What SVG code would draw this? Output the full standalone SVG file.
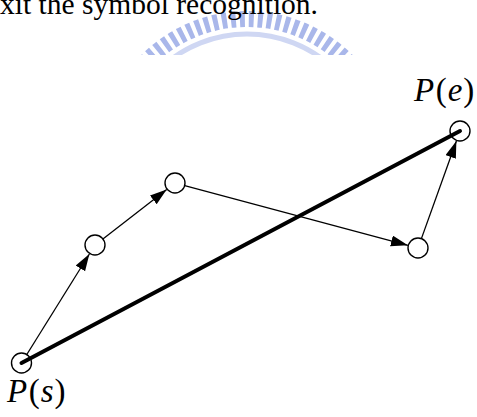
<svg xmlns="http://www.w3.org/2000/svg" width="477" height="417" viewBox="0 0 477 417">
<style>
.node circle{fill:#fff;stroke:#000;stroke-width:1.4}
.thin{stroke:#000;stroke-width:1.3;fill:none;marker-end:url(#ah)}
.thick{stroke:#000;stroke-width:4;fill:none;stroke-linecap:round}
.lbl{font-family:"Liberation Serif","Times New Roman",serif;font-size:33px;fill:#000}
.it{font-style:italic}
.cap{font-family:"Liberation Serif","Times New Roman",serif;font-size:29.5px;fill:#000}
</style>
<defs>
<marker id="ah" markerUnits="userSpaceOnUse" markerWidth="18" markerHeight="12" refX="17" refY="5.5" orient="auto" viewBox="0 0 18 12">
<path d="M0,0 L17,5.5 L0,11 z" fill="#000"/>
</marker>
<clipPath id="wmclip"><rect x="0" y="0" width="477" height="55"/></clipPath>
</defs>
<g id="watermark" clip-path="url(#wmclip)">
<circle cx="247" cy="160" r="141" fill="none" stroke="#a9b7ea" stroke-width="16" stroke-dasharray="5 4"/>
<circle cx="247" cy="160" r="126" fill="none" stroke="#cfd7f3" stroke-width="5"/>
</g>
<text class="cap" x="0" y="14" textLength="318" lengthAdjust="spacingAndGlyphs">xit the symbol recognition.</text>
<g id="node-ps" class="node"><circle cx="21.5" cy="363" r="10"/></g>
<g id="node-a" class="node"><circle cx="95" cy="245" r="10"/></g>
<g id="node-b" class="node"><circle cx="175" cy="183" r="10"/></g>
<g id="node-c" class="node"><circle cx="418" cy="248" r="10"/></g>
<g id="node-pe" class="node"><circle cx="460" cy="131" r="10"/></g>
<g id="connectors">
<line class="thin" x1="26.8" y1="354.5" x2="89.4" y2="254"/>
<line class="thin" x1="102.9" y1="238.9" x2="166.7" y2="189.4"/>
<line class="thin" x1="184.7" y1="185.6" x2="407.9" y2="245.3"/>
<line class="thin" x1="421.4" y1="238.6" x2="456.4" y2="141"/>
<line class="thick" x1="21.5" y1="363" x2="460" y2="131"/>
</g>
<g id="labels">
<text class="lbl" x="414" y="101"><tspan class="it">P</tspan><tspan dx="1.5">(</tspan><tspan class="it" dx="1">e</tspan><tspan dx="1">)</tspan></text>
<text class="lbl" x="7" y="402"><tspan class="it">P</tspan><tspan dx="1.5">(</tspan><tspan class="it" dx="1">s</tspan><tspan dx="1">)</tspan></text>
</g>
</svg>
